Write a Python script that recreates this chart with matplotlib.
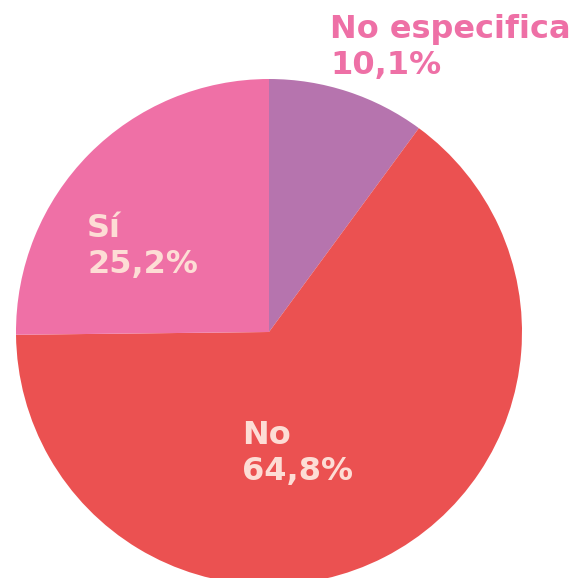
import matplotlib.pyplot as plt

labels = ["No especifica", "No", "Sí"]
shares = [10.1, 64.8, 25.2]
colors = ["#B674AE", "#EB5151", "#EF70A6"]

W, H = 587, 578
fig = plt.figure(figsize=(W / 100, H / 100), dpi=100)
ax = fig.add_axes([0, 0, 1, 1])

# pie in pixel coords (y flipped: image y -> H - y)
cx, cy, r = 269, H - 332, 253
ax.pie(shares, colors=colors, startangle=90, counterclock=False,
       center=(cx, cy), radius=r, wedgeprops=dict(linewidth=0))
ax.set_xlim(0, W)
ax.set_ylim(0, H)
ax.set_aspect("equal")
ax.axis("off")

font = dict(family="DejaVu Sans", weight="bold", fontsize=23)
inner = "#FDDDD5"


def pct(v):
    return f"{v:.1f}%".replace(".", ",")


ax.text(330, H - 14, f"{labels[0]}\n{pct(shares[0])}", color="#EE70A6",
        ha="left", va="top", linespacing=1.22, **font)
ax.text(242, H - 420, f"{labels[1]}\n{pct(shares[1])}", color=inner,
        ha="left", va="top", linespacing=1.22, **font)
ax.text(87, H - 213, f"{labels[2]}\n{pct(shares[2])}", color=inner,
        ha="left", va="top", linespacing=1.22, **font)

fig.savefig("out.png", dpi=100)
